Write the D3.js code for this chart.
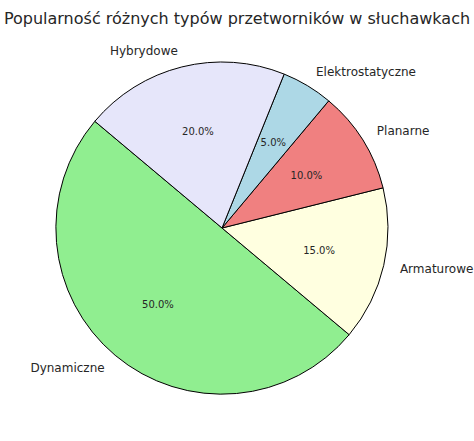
<!DOCTYPE html>
<html><head><meta charset="utf-8">
<script src="https://cdn.jsdelivr.net/npm/d3@7"></script>
<style>body{margin:0;background:#fff}</style>
</head><body><div id="chart"></div>
<script>
const labels = ["Dynamiczne", "Armaturowe", "Planarne", "Elektrostatyczne", "Hybrydowe"];
const shares = [50, 15, 10, 5, 20];
const colors = ["#90ee90", "#ffffe0", "#f08080", "#add8e6", "#e6e6fa"];

const width = 474, height = 441;
const cx = 222, cy = 228, r = 166;
const font = "DejaVu Sans, sans-serif";

const svg = d3.select("#chart").append("svg")
    .attr("width", width).attr("height", height);

svg.append("text")
    .attr("x", width / 2).attr("y", 24)
    .attr("text-anchor", "middle")
    .style("font-family", font).style("font-size", "16px").style("fill", "#262626")
    .text("Popularność różnych typów przetworników w słuchawkach");

// matplotlib startangle 140, counterclockwise
const start = (90 - 140) * Math.PI / 180;
const pie = d3.pie().sort(null).value(d => d)
    .startAngle(start).endAngle(start - 2 * Math.PI);
const arcs = pie(shares);
const arc = d3.arc().innerRadius(0).outerRadius(r);

const g = svg.append("g").attr("transform", `translate(${cx},${cy})`);

g.selectAll("path").data(arcs).enter().append("path")
    .attr("d", arc)
    .attr("fill", (d, i) => colors[i])
    .attr("stroke", "#000").attr("stroke-width", 1);

const pos = (d, k) => {
    const a = (d.startAngle + d.endAngle) / 2;
    return [Math.sin(a) * r * k, -Math.cos(a) * r * k];
};

g.selectAll("text.lbl").data(arcs).enter().append("text")
    .attr("class", "lbl")
    .attr("x", d => pos(d, 1.1)[0]).attr("y", d => pos(d, 1.1)[1])
    .attr("dy", "0.35em")
    .attr("text-anchor", d => pos(d, 1.1)[0] > 0 ? "start" : "end")
    .style("font-family", font).style("font-size", "12px").style("fill", "#262626")
    .text((d, i) => labels[i]);

g.selectAll("text.pct").data(arcs).enter().append("text")
    .attr("class", "pct")
    .attr("x", d => pos(d, 0.6)[0]).attr("y", d => pos(d, 0.6)[1])
    .attr("dy", "0.35em")
    .attr("text-anchor", "middle")
    .style("font-family", font).style("font-size", "10px").style("fill", "#262626")
    .text(d => d.value.toFixed(1) + "%");
</script>
</body></html>
